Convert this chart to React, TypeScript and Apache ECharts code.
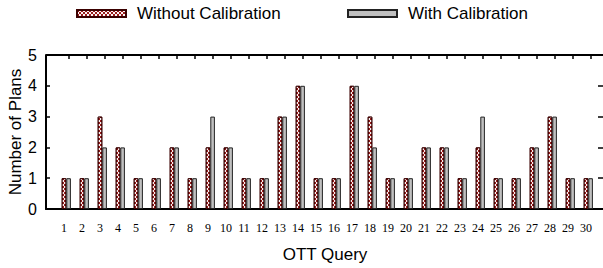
import React, { useEffect, useRef } from "react";
import * as echarts from "echarts";

const queries: string[] = Array.from({ length: 30 }, (_, i) => String(i + 1));
const withoutCalibration: number[] = [1, 1, 3, 2, 1, 1, 2, 1, 2, 2, 1, 1, 3, 4, 1, 1, 4, 3, 1, 1, 2, 2, 1, 2, 1, 1, 2, 3, 1, 1];
const withCalibration: number[] = [1, 1, 2, 2, 1, 1, 2, 1, 3, 2, 1, 1, 3, 4, 1, 1, 4, 2, 1, 1, 2, 2, 1, 3, 1, 1, 2, 3, 1, 1];
const yTicks = { min: 0, max: 5, interval: 1 };

const SANS = "'Liberation Sans', Arial, sans-serif";
const SERIF = "'Liberation Serif', 'Times New Roman', serif";

export default function App() {
  const ref = useRef<HTMLDivElement>(null);
  useEffect(() => {
    document.body.style.margin = "0";
    const chart = echarts.init(ref.current!, null, { renderer: "svg" });
    const cats = ["", ...queries, ""];
    const pad = (a: number[]) => [null, ...a, null];
    const redDecal = {
      symbol: "rect",
      color: "rgba(255,255,255,0.95)",
      dashArrayX: [[1.5, 1.5], [0, 1.5, 1.5, 0]],
      dashArrayY: [1.5, 0],
      symbolSize: 1,
      rotation: 0,
    };
    const tickLen = 0.13;
    const topTickLines = queries.map((q) => [
      { coord: [q, yTicks.max] },
      { coord: [q, yTicks.max - tickLen] },
    ]);
    chart.setOption({
      animation: false,
      backgroundColor: "#fff",
      grid: { left: 46, right: -1, top: 55, bottom: 59, outerBoundsMode: "none", containLabel: false },
      legend: [
        {
          data: ["Without Calibration"],
          left: 71,
          top: 0,
          itemWidth: 49,
          itemHeight: 7,
          icon: "rect",
          textStyle: { fontFamily: SANS, fontSize: 17, color: "#000", padding: [0, 0, 0, 6] },
        },
        {
          data: ["With Calibration"],
          left: 342,
          top: 0,
          itemWidth: 49,
          itemHeight: 7,
          icon: "rect",
          textStyle: { fontFamily: SANS, fontSize: 17, color: "#000", padding: [0, 0, 0, 6] },
        },
      ],
      xAxis: [
        {
          type: "category",
          data: cats,
          boundaryGap: false,
          position: "bottom",
          axisLine: { onZero: false, lineStyle: { color: "#000", width: 2 } },
          axisTick: { show: false },
          axisLabel: { interval: 0, fontFamily: SERIF, fontSize: 12, color: "#000", margin: 13 },
          name: "OTT Query",
          nameLocation: "middle",
          nameGap: 37,
          nameTextStyle: { fontFamily: SANS, fontSize: 17, color: "#000" },
        },
      ],
      yAxis: [
        {
          type: "value",
          ...yTicks,
          position: "left",
          axisLine: { show: true, onZero: false, lineStyle: { color: "#000", width: 2 } },
          axisTick: { show: true, inside: true, length: 4, lineStyle: { color: "#000", width: 1.5 } },
          axisLabel: { fontFamily: SANS, fontSize: 16, color: "#000", margin: 9 },
          splitLine: { show: false },
          name: "Number of Plans",
          nameLocation: "middle",
          nameGap: 22,
          nameMoveOverlap: false,
          nameTextStyle: { fontFamily: SANS, fontSize: 17, color: "#000" },
        },
        {
          type: "value",
          ...yTicks,
          position: "right",
          axisLine: { show: true, onZero: false, lineStyle: { color: "rgba(0,0,0,0)", width: 0 } },
          axisTick: { show: true, inside: true, length: 6, lineStyle: { color: "#000", width: 1.5 } },
          axisLabel: { show: false },
          splitLine: { show: false },
        },
      ],
      series: [
        {
          name: "spacer",
          type: "bar",
          barWidth: 4.6,
          barGap: "0%",
          data: pad(withoutCalibration.map(() => 0)),
          itemStyle: { color: "rgba(0,0,0,0)", borderWidth: 0 },
          silent: true,
          markLine: {
            silent: true,
            symbol: ["none", "none"],
            label: { show: false },
            lineStyle: { color: "#000", width: 2, type: "solid" },
            data: [{ yAxis: yTicks.max }],
          },
        },
        {
          name: "Without Calibration",
          type: "bar",
          barWidth: 4.6,
          barGap: "0%",
          data: pad(withoutCalibration),
          itemStyle: { color: "#9a1a1a", borderColor: "#3a0000", borderWidth: 1, decal: redDecal },
        },
        {
          name: "With Calibration",
          type: "bar",
          barWidth: 4.6,
          barGap: "0%",
          data: pad(withCalibration),
          itemStyle: { color: "#c0c0c0", borderColor: "#222", borderWidth: 1 },
          markLine: {
            silent: true,
            symbol: ["none", "none"],
            label: { show: false },
            lineStyle: { color: "#000", width: 1.5, type: "solid" },
            data: topTickLines,
          },
        },
      ],
    });
    return () => chart.dispose();
  }, []);
  return <div ref={ref} style={{ position: "absolute", left: 0, top: 0, width: 603, height: 268 }} />;
}
